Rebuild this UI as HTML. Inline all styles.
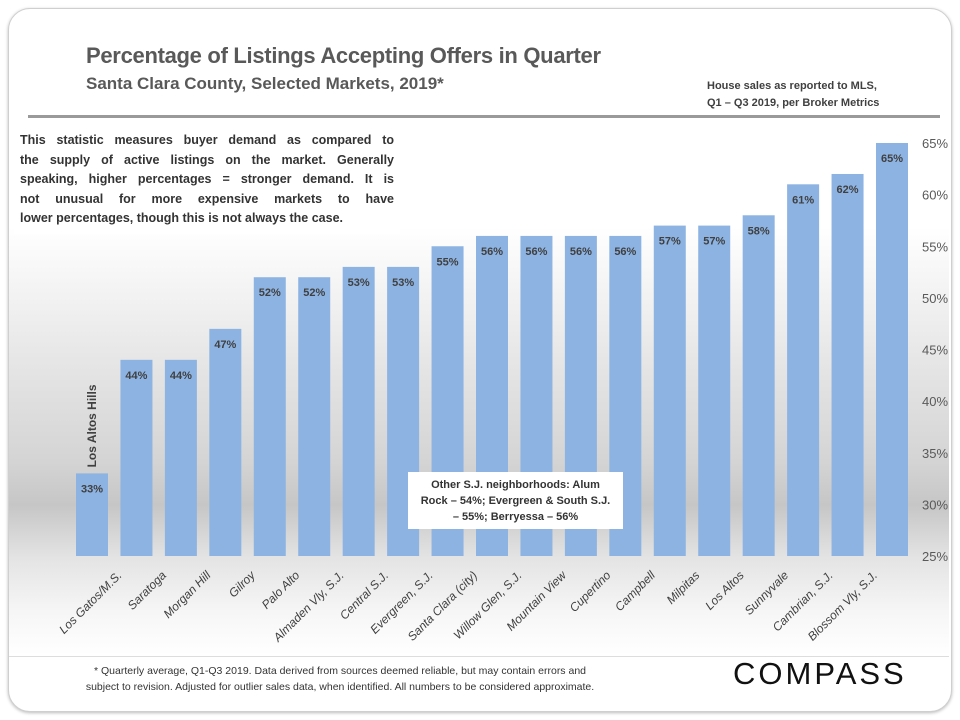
<!DOCTYPE html>
<html><head><meta charset="utf-8"><style>
body{margin:0;width:960px;height:720px;background:#fff;font-family:"Liberation Sans",sans-serif;overflow:hidden;position:relative}
.card{position:absolute;left:8px;top:8px;width:942px;height:702px;border:1px solid #cfcfcf;border-radius:22px;box-shadow:0 1px 3px #bbb;overflow:hidden;background:#fff}
.bg{position:absolute;left:9px;top:120px;width:940px;height:535px;background:linear-gradient(#fff 0%,#fff 20%,#e6e6e6 45%,#d4d4d4 64%,#c6c6c6 72%,#e4e4e4 82%,#f6f6f6 92%,#fff 100%)}
.sep{position:absolute;left:28px;width:912px;height:3px;background:#9a9a9a;top:115px}
.title{position:absolute;left:86px;top:43px;font-size:22px;font-weight:bold;color:#595959;letter-spacing:-0.3px}
.sub{position:absolute;left:86px;top:74px;font-size:17px;font-weight:bold;color:#595959}
.src{position:absolute;left:707px;top:78px;font-size:11px;color:#404040;line-height:17px;font-weight:bold}
.note{position:absolute;left:14px;top:124px;width:386px;height:110px;background:#fff;font-size:12.5px;font-weight:bold;color:#333;line-height:19.5px;padding:7px 6px 0 6px;box-sizing:border-box}
.note div{text-align:justify;text-align-last:justify;white-space:nowrap}
.note div.l{text-align-last:left}
.fn{position:absolute;left:40px;top:663px;width:600px;text-align:center;font-size:10.5px;color:#333;line-height:16px}
.logo{position:absolute;left:733px;top:656px;font-size:31px;letter-spacing:3px;color:#111}
</style></head><body>
<div class="card"></div>
<div class="bg"></div>
<div class="sep"></div>
<div class="title">Percentage of Listings Accepting Offers in Quarter</div>
<div class="sub">Santa Clara County, Selected Markets, 2019*</div>
<div class="src">House sales as reported to MLS,<br>Q1 – Q3 2019, per Broker Metrics</div>
<svg id="chart" width="960" height="720" style="position:absolute;left:0;top:0"></svg>
<div class="note"><div>This statistic measures buyer demand as compared to</div><div>the supply of active listings on the market. Generally</div><div>speaking, higher percentages = stronger demand. It is</div><div>not unusual for more expensive markets to have</div><div class="l">lower percentages, though this is not always the case.</div></div>
<div style="position:absolute;left:408px;top:472px;width:215px;height:57px;background:#fff;font-size:11px;color:#333;text-align:center;line-height:16px;padding-top:5px;box-sizing:border-box;font-weight:bold;white-space:nowrap">Other S.J. neighborhoods: Alum<br>Rock – 54%; Evergreen &amp; South S.J.<br>– 55%; Berryessa – 56%</div>
<div style="position:absolute;left:9px;top:656px;width:940px;height:1px;background:#ddd"></div>
<div class="fn">* Quarterly average, Q1-Q3 2019. Data derived from sources deemed reliable, but may contain errors and<br>subject to revision. Adjusted for outlier sales data, when identified. All numbers to be considered approximate.</div>
<div class="logo">COMPASS</div>
<script>
const categories=["Los Altos Hills","Los Gatos/M.S.","Saratoga","Morgan Hill","Gilroy","Palo Alto","Almaden Vly, S.J.","Central S.J.","Evergreen, S.J.","Santa Clara (city)","Willow Glen, S.J.","Mountain View","Cupertino","Campbell","Milpitas","Los Altos","Sunnyvale","Cambrian, S.J.","Blossom Vly, S.J."];
const values=[33,44,44,47,52,52,53,53,55,56,56,56,56,57,57,58,61,62,65];
const ticks=[25,30,35,40,45,50,55,60,65];
const svg=document.getElementById('chart');const NS='http://www.w3.org/2000/svg';
function y(v){return 556-(v-25)*(556-143)/40;}
function x(i){return 92+i*(892-92)/18;}
function mk(t,a,txt){const e=document.createElementNS(NS,t);for(const k in a)e.setAttribute(k,a[k]);if(txt!==undefined)e.textContent=txt;svg.appendChild(e);return e;}
ticks.forEach(t=>{const e=mk('text',{x:922,y:y(t)+5,'font-size':13,fill:'#595959'},t+'%');

});
values.forEach((v,i)=>{const b=mk('rect',{x:x(i)-16,y:y(v),width:32,height:y(25)-y(v),fill:'#8db3e2'});


const l=mk('text',{x:x(i),y:y(v)+19,'font-size':11,'font-weight':'bold',fill:'#404040','text-anchor':'middle'},v+'%');


if(i===0){const h=mk('text',{transform:`translate(${x(i)+4},${y(v)-6}) rotate(-90)`,'font-size':12,'font-weight':'bold',fill:'#404040'},categories[i]);

}
else{const c=mk('text',{transform:`translate(${x(i)-14},${576}) rotate(-45)`,'font-size':12,'font-style':'italic',fill:'#404040','text-anchor':'end'},categories[i]);

}
});
</script>
</body></html>
